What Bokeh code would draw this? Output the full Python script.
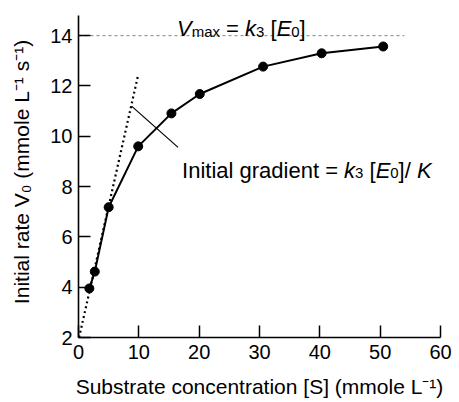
import math
from bokeh.plotting import figure
from bokeh.models import Range1d, Label, FixedTicker
from bokeh.embed import file_html
from bokeh.resources import INLINE

# ---- data ----
S = [1.8, 2.7, 5.0, 9.9, 15.4, 20.1, 30.6, 40.3, 50.5]
V0 = [3.95, 4.62, 7.18, 9.6, 10.91, 11.68, 12.77, 13.3, 13.57]
VMAX = 14.0
vmax_x = [0.0, 54.0]
tangent_x = [0.1, 9.9]
tangent_y = [2.0, 12.45]
leader_x = [8.8, 16.5]
leader_y = [11.2, 9.56]
x_ticks = [0, 10, 20, 30, 40, 50, 60]
y_ticks = [2, 4, 6, 8, 10, 12, 14]
x_title = "Substrate concentration [S] (mmole L\u207b\u00b9)"
y_title = "Initial rate V\u2080 (mmole L\u207b\u00b9 s\u207b\u00b9)"

FONT = "Liberation Sans"

# Arial / Liberation Sans advance widths (per 1000 em)
ADV = {' ': 278, '(': 333, ')': 333, '/': 278, '=': 584, '-': 333, '[': 278, ']': 278,
       'E': 667, 'I': 278, 'K': 667, 'L': 556, 'S': 667, 'V': 667,
       'a': 556, 'b': 556, 'c': 500, 'd': 556, 'e': 556, 'g': 556, 'i': 222, 'k': 500,
       'l': 222, 'm': 833, 'n': 556, 'o': 556, 'r': 333, 's': 500, 't': 278, 'u': 556,
       'x': 500}


def width(s, size):
    return sum(ADV.get(ch, 556) for ch in s) * size / 1000.0


def rich(p, pieces, x, y, size, align="left", dx=0.0, dy=0.0):
    """pieces: list of (text, style); style letters: i=italic, b=sub"""
    sizes = [size * 0.68 if 'b' in st else size for t, st in pieces]
    total = sum(width(t, fs) for (t, st), fs in zip(pieces, sizes))
    pos = 0.0 if align == "left" else (-total / 2 if align == "center" else -total)
    for (t, st), fs in zip(pieces, sizes):
        shift = -0.14 * size if 'b' in st else 0.0
        lead = len(t) - len(t.lstrip(' '))
        body = t.strip(' ')
        if body:
            p.add_layout(Label(x=x, y=y, x_offset=dx + pos + width(' ' * lead, fs),
                               y_offset=dy + shift, text=body,
                               text_font=FONT, text_font_size=f"{fs:.1f}px",
                               text_font_style="italic" if 'i' in st else "normal",
                               text_color="black", text_align="left",
                               text_baseline="alphabetic"))
        pos += width(t, fs)


W, H = 455, 400
p = figure(width=W, height=H, x_range=Range1d(0, 60), y_range=Range1d(2, 15.16),
           output_backend="svg", toolbar_location=None,
           min_border_left=78, min_border_right=W - 440, min_border_top=6,
           min_border_bottom=H - 337)
p.outline_line_color = None
p.xgrid.grid_line_color = None
p.ygrid.grid_line_color = None
p.background_fill_color = "white"
p.border_fill_color = "white"

p.xaxis.ticker = FixedTicker(ticks=x_ticks)
p.yaxis.ticker = FixedTicker(ticks=y_ticks)
p.yaxis.bounds = (2, 14.8)
p.xaxis.axis_label = x_title
p.yaxis.axis_label = y_title
for ax in (p.xaxis[0], p.yaxis[0]):
    ax.axis_line_color = "black"
    ax.axis_line_width = 1.6
    ax.major_tick_in = 12
    ax.major_tick_out = 0
    ax.major_tick_line_color = "black"
    ax.major_tick_line_width = 1.5
    ax.minor_tick_line_color = None
    ax.major_label_text_font = FONT
    ax.major_label_text_font_size = "20px"
    ax.major_label_text_color = "black"
    ax.axis_label_text_font = FONT
    ax.axis_label_text_font_size = "21px"
    ax.axis_label_text_font_style = "normal"
    ax.axis_label_text_color = "black"
p.xaxis.major_label_standoff = 7
p.yaxis.major_label_standoff = 6
p.xaxis.axis_label_standoff = 13
p.yaxis.axis_label_standoff = 14

# Vmax dashed line
p.line(vmax_x, [VMAX, VMAX], line_color="#808080", line_width=1, line_dash="3 3")
# tangent (initial gradient)
p.line(tangent_x, tangent_y, line_color="black", line_width=2.2, line_dash="2 3")
# leader line
p.line(leader_x, leader_y, line_color="black", line_width=1.2)
# curve + points
p.line(S, V0, line_color="black", line_width=2)
p.scatter(S, V0, size=9, fill_color="black", line_color="black")

# Vmax label
rich(p, [("V", "i"), ("max", "b"), (" = ", ""), ("k", "i"), ("3", "b"), (" [", ""),
         ("E", "i"), ("0", "b"), ("]", "")],
     x=sum(vmax_x) / 2, y=VMAX, size=22, align="center", dy=7)

# initial gradient label
rich(p, [("Initial gradient = ", ""), ("k", "i"), ("3", "b"), (" [", ""), ("E", "i"),
         ("0", "b"), ("]/ ", ""), ("K", "i")],
     x=leader_x[1], y=leader_y[1], size=22, align="left", dx=4, dy=-23)

open("out.html", "w").write(file_html(p, INLINE))
